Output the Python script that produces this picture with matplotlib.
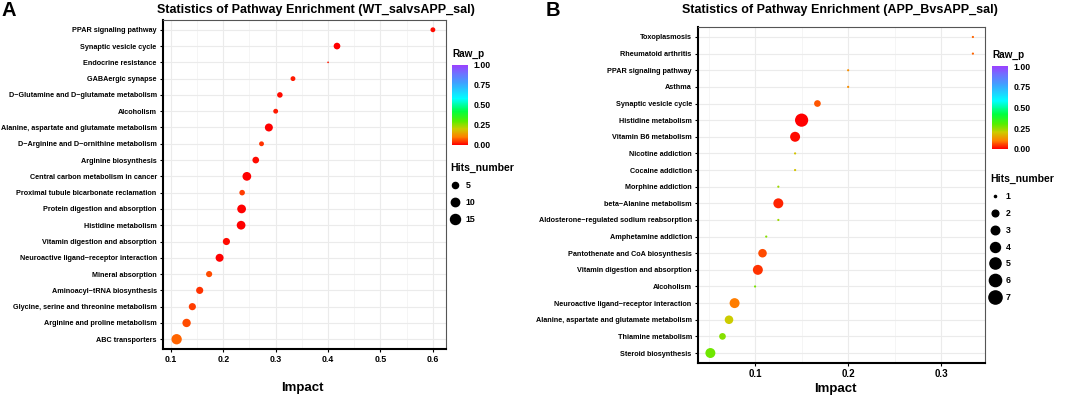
import numpy as np
import matplotlib
matplotlib.use("Agg")
import matplotlib.pyplot as plt
from matplotlib.colors import LinearSegmentedColormap, Normalize
from matplotlib.cm import ScalarMappable
from matplotlib.lines import Line2D
from matplotlib.ticker import MultipleLocator

plt.rcParams['font.family'] = ['Liberation Sans', 'DejaVu Sans']
plt.rcParams['font.weight'] = 'bold'

# panel A data (top to bottom)
a_paths = ["PPAR signaling pathway", "Synaptic vesicle cycle", "Endocrine resistance",
           "GABAergic synapse", "D\u2212Glutamine and D\u2212glutamate metabolism", "Alcoholism",
           "Alanine, aspartate and glutamate metabolism", "D\u2212Arginine and D\u2212ornithine metabolism",
           "Arginine biosynthesis", "Central carbon metabolism in cancer",
           "Proximal tubule bicarbonate reclamation", "Protein digestion and absorption",
           "Histidine metabolism", "Vitamin digestion and absorption",
           "Neuroactive ligand\u2212receptor interaction", "Mineral absorption",
           "Aminoacyl\u2212tRNA biosynthesis", "Glycine, serine and threonine metabolism",
           "Arginine and proline metabolism", "ABC transporters"]
a_impact = [0.600, 0.417, 0.400, 0.333, 0.308, 0.300, 0.287, 0.273, 0.262, 0.245,
            0.236, 0.235, 0.234, 0.206, 0.193, 0.173, 0.155, 0.141, 0.130, 0.111]
a_hits = [3, 6, 1, 3, 4, 3, 9, 3, 6, 11, 4, 11, 11, 7, 9, 5, 7, 7, 10, 16]
a_p = [0.01, 0.0, 0.02, 0.02, 0.01, 0.02, 0.0, 0.04, 0.01, 0.0,
       0.05, 0.0, 0.0, 0.01, 0.0, 0.06, 0.04, 0.05, 0.06, 0.08]

# panel B data (top to bottom)
b_paths = ["Toxoplasmosis", "Rheumatoid arthritis", "PPAR signaling pathway", "Asthma",
           "Synaptic vesicle cycle", "Histidine metabolism", "Vitamin B6 metabolism",
           "Nicotine addiction", "Cocaine addiction", "Morphine addiction",
           "beta\u2212Alanine metabolism", "Aldosterone\u2212regulated sodium reabsorption",
           "Amphetamine addiction", "Pantothenate and CoA biosynthesis",
           "Vitamin digestion and absorption", "Alcoholism",
           "Neuroactive ligand\u2212receptor interaction",
           "Alanine, aspartate and glutamate metabolism", "Thiamine metabolism",
           "Steroid biosynthesis"]
b_impact = [0.334, 0.334, 0.200, 0.200, 0.167, 0.150, 0.143, 0.143, 0.143, 0.125,
            0.125, 0.125, 0.112, 0.108, 0.103, 0.100, 0.078, 0.072, 0.065, 0.052]
b_hits = [1, 1, 1, 1, 2, 7, 4, 1, 1, 1, 4, 1, 1, 3, 4, 1, 4, 3, 2, 4]
b_p = [0.08, 0.08, 0.12, 0.12, 0.07, 0.0, 0.01, 0.19, 0.19, 0.24,
       0.03, 0.24, 0.26, 0.06, 0.04, 0.27, 0.10, 0.20, 0.26, 0.28]

cmap = LinearSegmentedColormap.from_list("rawp", [
    (0.0, "#FF0000"), (0.1, "#FF8000"), (0.2, "#CCCC00"), (0.3, "#55EE00"),
    (0.42, "#00FF40"), (0.58, "#00FFFF"), (0.78, "#40A0FF"), (0.9, "#7070FF"),
    (1.0, "#9B40FF")])
norm = Normalize(0, 1)

W, H = 1065, 398


def fbox(left, top, right, bottom):
    return [left / W, 1 - bottom / H, (right - left) / W, (bottom - top) / H]


def size_px(v, vmin, vmax, k):
    return k * (1 + 5 * np.sqrt((np.asarray(v, float) - vmin) / (vmax - vmin)))


def panel(fig, box, paths, impact, hits, p, xlim, xmaj, k, vmin, vmax,
          title, tx, letter, lx, xlab_y, xlab_x, cbox, legpos, legbreaks, tickfs):
    ax = fig.add_axes(fbox(*box))
    n = len(paths)
    y = np.arange(n)[::-1]
    d = size_px(hits, vmin, vmax, k) * 0.72
    ax.scatter(impact, y, s=d ** 2, c=p, cmap=cmap, norm=norm, linewidths=0, zorder=3)
    ax.set_ylim(-0.6, n - 0.4)
    ax.set_xlim(*xlim)
    ax.set_yticks(y)
    ax.set_yticklabels(paths, fontsize=5.2, fontweight='bold')
    ax.xaxis.set_major_locator(MultipleLocator(xmaj))
    ax.xaxis.set_minor_locator(MultipleLocator(xmaj / 2))
    ax.tick_params(axis='x', labelsize=tickfs, length=2.5, width=0.8, pad=2)
    ax.tick_params(axis='x', which='minor', length=0)
    ax.tick_params(axis='y', length=2.5, width=0.8, pad=2)
    ax.grid(True, which='major', color='#EBEBEB', lw=0.8, zorder=0)
    ax.grid(True, which='minor', axis='x', color='#F2F2F2', lw=0.5, zorder=0)
    ax.set_axisbelow(True)
    for s in ['left', 'bottom']:
        ax.spines[s].set_color('black')
        ax.spines[s].set_linewidth(1.5)
    for s in ['top', 'right']:
        ax.spines[s].set_color('#555555')
        ax.spines[s].set_linewidth(0.8)

    fig.text(tx / W, 1 - 9.5 / H, title, ha='center', va='center', fontsize=9, fontweight='bold')
    fig.text(lx / W, 1 - 10 / H, letter, ha='left', va='center', fontsize=14.5, fontweight='bold')
    fig.text(xlab_x / W, 1 - xlab_y / H, "Impact", ha='center', va='center',
             fontsize=9.5, fontweight='bold')

    cax = fig.add_axes(fbox(*cbox))
    cb = fig.colorbar(ScalarMappable(norm=norm, cmap=cmap), cax=cax,
                      ticks=[0, 0.25, 0.5, 0.75, 1.0], format="%.2f")
    cb.outline.set_visible(False)
    cax.tick_params(labelsize=6.3, length=2, color='white', width=0.8, pad=2)
    cax.set_title("Raw_p", fontsize=7.2, fontweight='bold', loc='left', pad=6)

    handles = [Line2D([], [], ls='none', marker='o', color='black',
                      markersize=float(size_px(b, vmin, vmax, k) * 0.72)) for b in legbreaks]
    ax.legend(handles, [str(b) for b in legbreaks], title="Hits_number",
              loc='upper left', bbox_to_anchor=(legpos[0] / W, 1 - legpos[1] / H),
              bbox_transform=fig.transFigure, frameon=False, fontsize=6.3,
              title_fontproperties={'size': 7.5, 'weight': 'bold'},
              alignment='left', handlelength=1.2, handletextpad=0.6,
              labelspacing=0.9, borderpad=0, borderaxespad=0)
    return ax


fig = plt.figure(figsize=(W / 100, H / 100), dpi=100)

panel(fig, (163, 20, 446, 349), a_paths, a_impact, a_hits, a_p,
      (0.085, 0.625), 0.1, 1.72, 1, 16,
      "Statistics of Pathway Enrichment (WT_salvsAPP_sal)", 316, "A", 2, 388, 302,
      (452, 65, 468, 145), (450, 163), [5, 10, 15], 6.3)

panel(fig, (698, 27, 985, 363), b_paths, b_impact, b_hits, b_p,
      (0.0387, 0.347), 0.1, 2.2, 1, 7,
      "Statistics of Pathway Enrichment (APP_BvsAPP_sal)", 840, "B", 546, 389, 835,
      (992, 66, 1008, 149), (990, 174), [1, 2, 3, 4, 5, 6, 7], 7)

fig.savefig("out.png", dpi=100)
